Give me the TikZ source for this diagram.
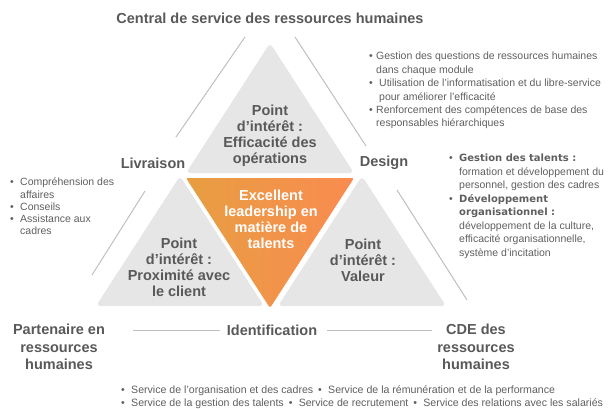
\documentclass[tikz,border=0pt]{standalone}
\usepackage{fontspec}
\setmainfont{Liberation Sans}
\newfontfamily\heavyfont{DejaVu Sans}
\definecolor{txt}{HTML}{595959}
\definecolor{txtb}{HTML}{5F5F5F}
\definecolor{trigrey}{HTML}{E6E6E6}
\definecolor{linegrey}{HTML}{BFBFBF}
\definecolor{orL}{HTML}{E89E42}
\definecolor{orR}{HTML}{F98B50}
\newcommand{\mybul}{\makebox[10pt][l]{•}}
\newcommand{\myind}{\hspace*{10pt}}
\newcommand{\myhd}{\heavyfont\bfseries\fontsize{10}{13.5}\selectfont}
\newcommand{\mysep}{\hspace*{5pt}\mybul}
\begin{document}
\begin{tikzpicture}[x=1pt,y=-1pt,
  lbl/.style={text=txt, font=\fontsize{14.5}{16}\selectfont\bfseries, align=center, inner sep=0pt},
  side/.style={text=txt, font=\fontsize{14.5}{17.5}\selectfont\bfseries, align=center, inner sep=0pt},
  small/.style={text=txtb, font=\fontsize{10.5}{13.4}\selectfont, align=left, inner sep=0pt},
  tri/.style={fill=trigrey, rounded corners=4pt},
  guide/.style={draw=linegrey, line width=1pt}]
\useasboundingbox (0,0) rectangle (608,408);

% triangles
\fill[tri] (270,43) -- (354,173) -- (186,173) -- cycle;
\fill[tri] (180,176) -- (264,306) -- (96,306) -- cycle;
\fill[tri] (362,176) -- (446,306) -- (278,306) -- cycle;
\shade[left color=orL, right color=orR, rounded corners=1.5pt] (186,178) -- (354,178) -- (270,308) -- cycle;

% guide lines (outer triangle)
\coordinate (tl1) at (245,37);  \coordinate (tl2) at (176,137);
\coordinate (tr1) at (295,37);  \coordinate (tr2) at (366,146);
\coordinate (bl1) at (145,191); \coordinate (bl2) at (92,275);
\coordinate (br1) at (397,190); \coordinate (br2) at (467,300);
\coordinate (h1) at (133,330);  \coordinate (h2) at (220,330);
\coordinate (h3) at (327,330);  \coordinate (h4) at (432,330);
\draw[guide] (tl1) -- (tl2);
\draw[guide] (tr1) -- (tr2);
\draw[guide] (bl1) -- (bl2);
\draw[guide] (br1) -- (br2);
\draw[guide] (h1) -- (h2);
\draw[guide] (h3) -- (h4);

% labels
\node[lbl] (title) at (270,18) {Central de service des ressources humaines};
\node[lbl] (livraison) at (153,163) {Livraison};
\node[lbl] (design) at (384,163) {Design};
\node[lbl] (ident) at (272,330) {Identification};
\node[side] (partner) at (59,347) {Partenaire en\\ressources\\humaines};
\node[side] (cde) at (476,347) {CDE des\\ressources\\humaines};

\node[lbl] (topt) at (270,136) {Point\\d’intérêt :\\Efficacité des\\opérations};
\node[lbl, text=white] (center) at (271,219) {Excellent\\leadership en\\matière de\\talents};
\node[lbl] (leftt) at (179,267) {Point\\d’intérêt :\\Proximité avec\\le client};
\node[lbl] (rightt) at (363,260) {Point\\d’intérêt :\\Valeur};

% bullet lists
\node[small, anchor=north west] (design list) at (369,52)
 {\makebox[7pt][l]{•}Gestion des questions de ressources humaines\\
  \hspace*{7pt}dans chaque module\\
  \makebox[10pt][l]{•}Utilisation de l’informatisation et du libre-service\\
  \hspace*{10pt}pour améliorer l’efficacité\\
  \makebox[7pt][l]{•}Renforcement des compétences de base des\\
  \hspace*{7pt}responsables hiérarchiques};

\node[small, anchor=north west, font=\fontsize{10.5}{12.2}\selectfont] (livr list) at (10,178)
 {\mybul Compréhension des\\
  \myind affaires\\
  \mybul Conseils\\
  \mybul Assistance aux\\
  \myind cadres};

\node[small, anchor=north west, font=\fontsize{10.5}{13.5}\selectfont] (talents) at (449,154)
 {\mybul{\myhd Gestion des talents :}\\
  \myind formation et développement du\\
  \myind personnel, gestion des cadres\\
  \mybul{\myhd Développement}\\
  \myind{\myhd organisationnel :}\\
  \myind développement de la culture,\\
  \myind efficacité organisationnelle,\\
  \myind système d’incitation};

\node[small, anchor=north west, font=\fontsize{10.6}{13}\selectfont] (services) at (121,385)
 {\mybul Service de l’organisation et des cadres\mysep Service de la rémunération et de la performance\\
  \mybul Service de la gestion des talents\mysep Service de recrutement\mysep Service des relations avec les salariés};
\end{tikzpicture}
\end{document}
